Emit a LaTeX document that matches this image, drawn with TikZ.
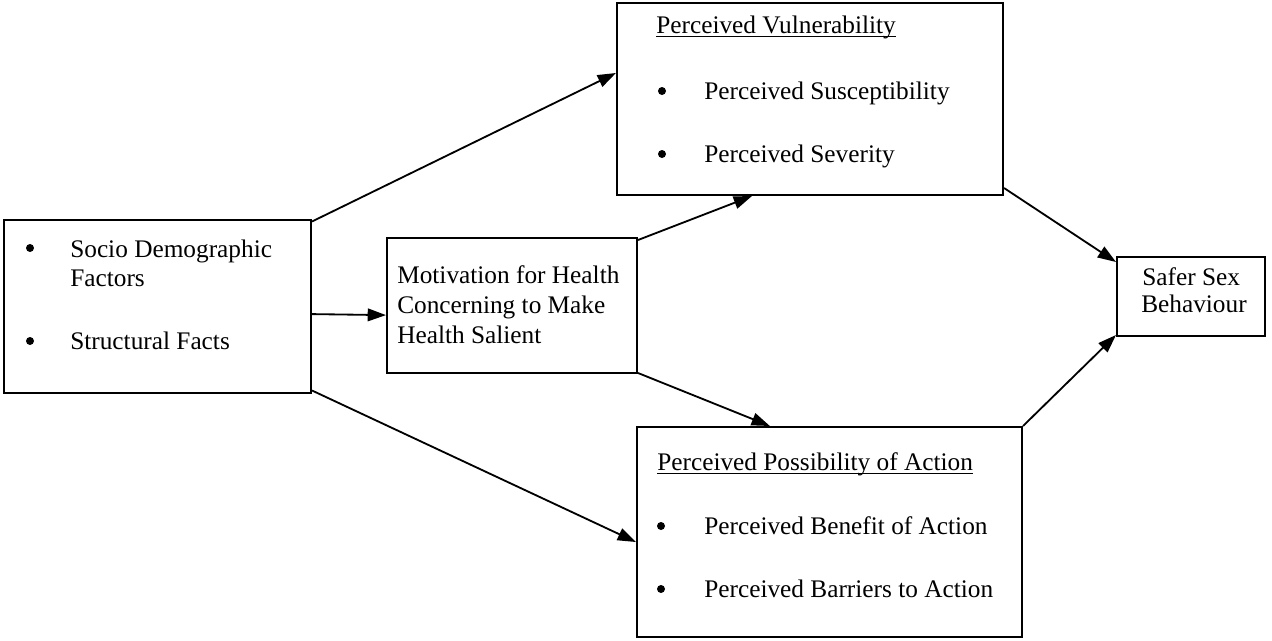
\documentclass[tikz,border=0pt]{standalone}
\usepackage{fontspec}
\setmainfont{Liberation Serif}
\usepackage{tikz}
\usetikzlibrary{arrows.meta,positioning,calc}
\tikzset{
  modelbox/.style={
    rectangle, draw=black, line width=1.4pt, fill=white,
    minimum width=#1, inner sep=0pt
  },
  itemtext/.style={
    anchor=base west, inner sep=0pt,
    font=\fontsize{18}{21.5}\selectfont
  },
  itemdot/.style={
    circle, fill=black, inner sep=0pt, minimum size=0.2cm
  },
  linkarrow/.style={
    -{Triangle[length=13pt, width=9pt]}, line width=1.3pt, color=#1
  },
  linkarrow/.default=black,
  headline/.style={line width=0.9pt}
}
\begin{document}
\begin{tikzpicture}[x=0.025cm, y=-0.025cm]
  \useasboundingbox (0,0) rectangle (1272,640);
  % boxes
  \node[modelbox=7.675cm, minimum height=4.3cm] at (157.5,306.5) (factors) {};
  \node[modelbox=9.65cm, minimum height=4.8cm] at (810,99) (vuln) {};
  \node[modelbox=6.25cm, minimum height=3.375cm] at (512,305.5) (motiv) {};
  \node[modelbox=9.625cm, minimum height=5.25cm] at (829.5,532) (action) {};
  \node[modelbox=3.7cm, minimum height=1.975cm] at (1191,296.5) (safer) {};
  % background factors
  \node[itemdot] at (30,248) (dotsocio) {};
  \node[itemtext] at (70,257) (socio) {Socio Demographic};
  \node[itemtext] at (70,286) (sociob) {Factors};
  \node[itemdot] at (30,341) (dotstruct) {};
  \node[itemtext] at (70,349) (struct) {Structural Facts};
  % motivation
  \node[itemtext] at (397,283) (motiva) {Motivation for Health};
  \node[itemtext] at (397,313) (motivb) {Concerning to Make};
  \node[itemtext] at (397,343) (motivc) {Health Salient};
  % perceived vulnerability
  \node[itemtext] at (656,33) (vulnhead) {Perceived Vulnerability};
  \draw[headline] ([yshift=-2.5pt]vulnhead.base west) -- ([yshift=-2.5pt]vulnhead.base east);
  \node[itemdot] at (662,91) (dotsusc) {};
  \node[itemtext] at (704,99) (susc) {Perceived Susceptibility};
  \node[itemdot] at (662,154) (dotsev) {};
  \node[itemtext] at (704,162) (sev) {Perceived Severity};
  % perceived possibility of action
  \node[itemtext] at (657,470) (acthead) {Perceived Possibility of Action};
  \draw[headline] ([yshift=-2.5pt]acthead.base west) -- ([yshift=-2.5pt]acthead.base east);
  \node[itemdot] at (661,526) (dotben) {};
  \node[itemtext] at (704,534) (ben) {Perceived Benefit of Action};
  \node[itemdot] at (661,589) (dotbar) {};
  \node[itemtext] at (704,597) (bar) {Perceived Barriers to Action};
  % outcome
  \node[itemtext] at (1142,285) (safera) {Safer Sex};
  \node[itemtext] at (1141,312) (saferb) {Behaviour};
  % links
  \draw[linkarrow] ([yshift=-0.05cm]factors.north east) -- ([yshift=0.65cm]vuln.west);
  \draw[linkarrow] ([yshift=-0.19cm]factors.east) -- ([yshift=-0.24cm]motiv.west);
  \draw[linkarrow] ([yshift=0.075cm]factors.south east) -- ([yshift=-0.25cm]action.west);
  \draw[linkarrow] ([yshift=-0.075cm]motiv.north east) -- ([xshift=-1.45cm]vuln.south);
  \draw[linkarrow] ([yshift=0.025cm]motiv.south east) -- ([xshift=-1.49cm]action.north);
  \draw[linkarrow] ([yshift=0.2cm]vuln.south east) -- ([yshift=-0.15cm]safer.north west);
  \draw[linkarrow] (action.north east) -- ([yshift=0.05cm]safer.south west);
\end{tikzpicture}
\end{document}
